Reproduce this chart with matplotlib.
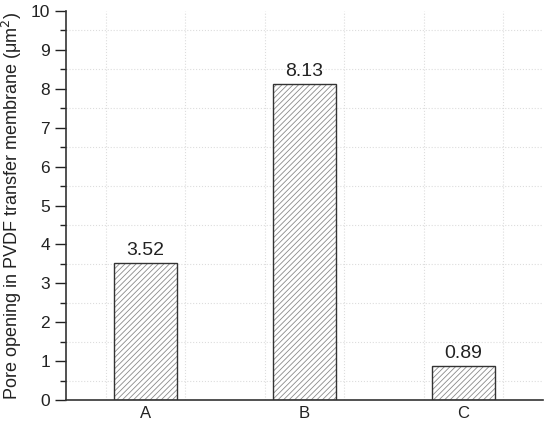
import matplotlib.pyplot as plt
from matplotlib.ticker import MultipleLocator, FixedLocator

plt.rcParams['font.family'] = ['Liberation Sans', 'DejaVu Sans']

labels = ['A', 'B', 'C']
values = [3.52, 8.13, 0.89]

fig = plt.figure(figsize=(5.5, 4.23), dpi=100)
ax = fig.add_axes([0.12, 0.054, 0.867, 0.92])

x = range(len(labels))
plt.rcParams['hatch.linewidth'] = 0.6
ax.bar(x, values, width=0.4, color='white', edgecolor='#8a8a8a', hatch='//////', linewidth=0, zorder=2)
ax.bar(x, values, width=0.4, fill=False, edgecolor='#333333', linewidth=1.0, zorder=3)

for xi, v in zip(x, values):
    ax.text(xi, v + 0.1, f'{v:.2f}', ha='center', va='bottom', fontsize=14, color='#222222')

ax.set_xlim(-0.5, 2.5)
ax.set_ylim(0, 10)
ax.set_xticks(list(x))
ax.set_xticklabels(labels)
ax.yaxis.set_major_locator(MultipleLocator(1))
ax.yaxis.set_minor_locator(MultipleLocator(0.5))
ax.xaxis.set_minor_locator(FixedLocator([-0.25, 0.25, 0.75, 1.25, 1.75, 2.25]))
ax.tick_params(axis='y', which='major', length=8, width=1, labelsize=12.5, colors='#222222')
ax.tick_params(axis='y', which='minor', length=4, width=1, colors='#222222')
ax.tick_params(axis='x', which='both', length=0, labelsize=12, colors='#222222', pad=4)

ax.grid(True, which='minor', axis='both', color='#dddddd', linestyle=':', linewidth=0.8, zorder=0)
ax.set_axisbelow(True)

for s in ['top', 'right']:
    ax.spines[s].set_visible(False)
for s in ['left', 'bottom']:
    ax.spines[s].set_color('#333333')
    ax.spines[s].set_linewidth(1.2)

ax.set_ylabel('Pore opening in PVDF transfer membrane (μm$^2$)', fontsize=13, color='#222222', labelpad=5)

fig.savefig('out.png', dpi=100)
